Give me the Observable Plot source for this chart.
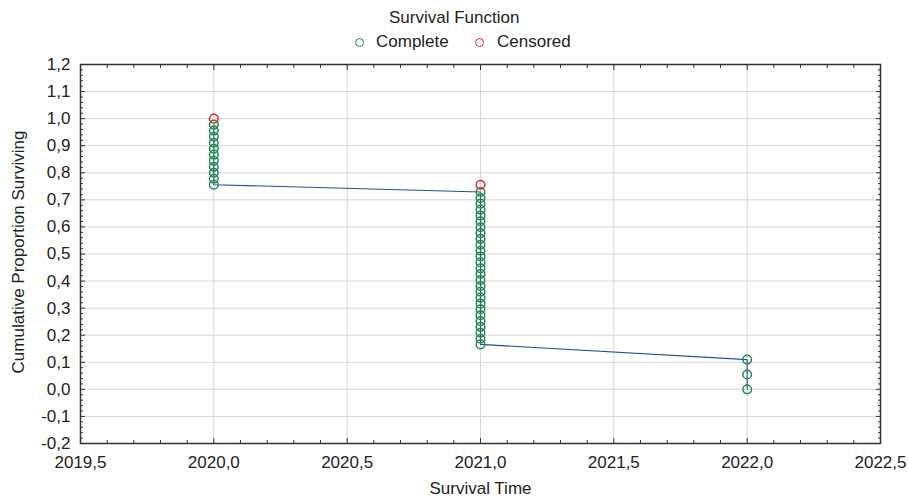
<!DOCTYPE html>
<html>
<head>
<meta charset="utf-8">
<script src="https://cdn.jsdelivr.net/npm/d3@7"></script>
<script src="https://cdn.jsdelivr.net/npm/@observablehq/plot@0.6"></script>
<style>
  body { margin: 0; background: #fff; }
  #wrap { position: relative; width: 908px; height: 499px; font-family: "Liberation Sans", Arial, sans-serif; color: #222; }
  .hd { position: absolute; font-size: 17px; line-height: 20px; white-space: nowrap; }
  .mk { position: absolute; width: 9px; height: 9px; border-radius: 50%; box-sizing: border-box; border: 1.5px solid; }
  #plot { position: absolute; left: 0; top: 0; }
</style>
</head>
<body>
<div id="wrap">
  <div id="plot"></div>
  <div class="hd" style="left:389px; top:8px;">Survival Function</div>
  <div class="mk" id="mkC" style="left:355px; top:38px;"></div>
  <div class="hd" style="left:376px; top:32px;">Complete</div>
  <div class="mk" id="mkX" style="left:475px; top:38px;"></div>
  <div class="hd" style="left:497px; top:32px;">Censored</div>
</div>
<script>
// ---- data ----
const statusNames = ["Complete", "Censored"];
const statusColors = ["#1f8a4c", "#e3262c"];
const lineColor = "#1f4f9e";

// censored observations (time, cumulative proportion surviving)
const censoredTimes = [2020, 2021];
const censoredSurv = [1.000, 0.756];

// complete observations at 2020
const complete2020 = [0.978, 0.956, 0.933, 0.911, 0.889, 0.867, 0.844, 0.822, 0.800, 0.778, 0.756];
// complete observations at 2021
const complete2021 = [0.729, 0.707, 0.686, 0.664, 0.642, 0.621, 0.599, 0.577, 0.556, 0.534, 0.512, 0.491, 0.469, 0.447,
                      0.426, 0.404, 0.382, 0.361, 0.339, 0.317, 0.296, 0.274, 0.252, 0.231, 0.209, 0.187, 0.166];
// complete observations at 2022
const complete2022 = [0.110, 0.055, 0.000];

// axis ticks
const xTicks = [2019.5, 2020.0, 2020.5, 2021.0, 2021.5, 2022.0, 2022.5];
const yTicks = [-0.2, -0.1, 0.0, 0.1, 0.2, 0.3, 0.4, 0.5, 0.6, 0.7, 0.8, 0.9, 1.0, 1.1, 1.2];

// ---- build tables ----
const complete = [
  ...complete2020.map(s => ({t: 2020, s, status: "Complete"})),
  ...complete2021.map(s => ({t: 2021, s, status: "Complete"})),
  ...complete2022.map(s => ({t: 2022, s, status: "Complete"}))
];
const censored = censoredTimes.map((t, i) => ({t, s: censoredSurv[i], status: "Censored"}));
const allPoints = [...complete, ...censored];

const xMinor = d3.range(0, 31).map(i => 2019.5 + i * 0.1).filter(v => !xTicks.some(m => Math.abs(m - v) < 1e-6));
const yMinor = d3.range(0, 71).map(i => -0.2 + i * 0.02).filter(v => !yTicks.some(m => Math.abs(m - v) < 1e-6));

const fmt = d => (Math.abs(d) < 1e-9 ? 0 : d).toFixed(1).replace(".", ",");

document.getElementById("mkC").style.borderColor = statusColors[0];
document.getElementById("mkX").style.borderColor = statusColors[1];

const tickColor = "#333";
const chart = Plot.plot({
  width: 908,
  height: 499,
  marginLeft: 80,
  marginRight: 28,
  marginTop: 64,
  marginBottom: 56,
  style: {fontFamily: "'Liberation Sans', Arial, sans-serif", fontSize: "17px", color: "#222", background: "#fff"},
  x: {domain: [2019.5, 2022.5]},
  y: {domain: [-0.2, 1.2]},
  color: {domain: statusNames, range: statusColors},
  marks: [
    Plot.gridX(xTicks, {stroke: "#d6d6d6", strokeOpacity: 1}),
    Plot.gridY(yTicks, {stroke: "#d6d6d6", strokeOpacity: 1}),
    Plot.line(complete, {x: "t", y: "s", stroke: lineColor, strokeWidth: 1.1}),
    Plot.dot(allPoints, {x: "t", y: "s", stroke: "status", r: 4.3, strokeWidth: 1.5}),
    Plot.frame({stroke: "#333", strokeWidth: 1.5}),
    Plot.axisX(xTicks, {anchor: "bottom", tickSize: 0, tickPadding: 12, tickFormat: fmt, label: null}),
    Plot.axisY(yTicks, {anchor: "left", tickSize: 0, tickPadding: 10, tickFormat: fmt, label: null}),
    // inward ticks, bottom & top
    Plot.axisX(xTicks, {anchor: "bottom", tickSize: 5, dy: -5, fill: "none", stroke: tickColor, label: null}),
    Plot.axisX(xMinor, {anchor: "bottom", tickSize: 3, dy: -3, fill: "none", stroke: tickColor, label: null}),
    Plot.axisX(xTicks, {anchor: "top", tickSize: 5, dy: 5, fill: "none", stroke: tickColor, label: null}),
    Plot.axisX(xMinor, {anchor: "top", tickSize: 3, dy: 3, fill: "none", stroke: tickColor, label: null}),
    // inward ticks, left & right
    Plot.axisY(yTicks, {anchor: "left", tickSize: 5, dx: 5, fill: "none", stroke: tickColor, label: null}),
    Plot.axisY(yMinor, {anchor: "left", tickSize: 3, dx: 3, fill: "none", stroke: tickColor, label: null}),
    Plot.axisY(yTicks, {anchor: "right", tickSize: 5, dx: -5, fill: "none", stroke: tickColor, label: null}),
    Plot.axisY(yMinor, {anchor: "right", tickSize: 3, dx: -3, fill: "none", stroke: tickColor, label: null}),
    // axis titles
    Plot.text(["Survival Time"], {text: d => d, frameAnchor: "bottom", lineAnchor: "middle", textAnchor: "middle", dy: 45, fill: "#222"}),
    Plot.text(["Cumulative Proportion Surviving"], {text: d => d, frameAnchor: "left", textAnchor: "middle", lineAnchor: "middle", rotate: -90, dx: -62, dy: -2, fill: "#222"})
  ]
});
document.getElementById("plot").appendChild(chart);
</script>
</body>
</html>
